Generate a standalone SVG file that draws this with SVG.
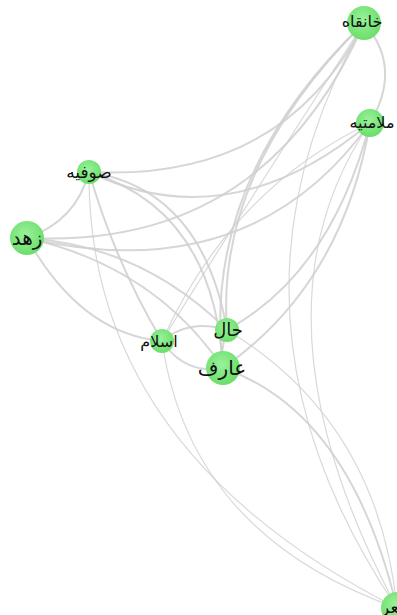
<svg xmlns="http://www.w3.org/2000/svg" width="397" height="615" viewBox="0 0 397 615">
<defs>
<radialGradient id="g" cx="45%" cy="40%" r="60%">
<stop offset="0" stop-color="#9af29a"/>
<stop offset="1" stop-color="#6ade6a"/>
</radialGradient>
<style>
.e{fill:none;stroke:#cfcfcf;stroke-width:2;stroke-opacity:0.85}
.t{stroke-width:1.2;stroke-opacity:0.8}
.n{fill:url(#g)}
text{font-family:"Liberation Sans","DejaVu Sans",sans-serif;fill:#111;text-anchor:middle}
</style>
</defs>
<rect width="397" height="615" fill="#fff"/>
<g id="edges">
<path class="e" d="M364,23 Q403,67 370,123"/>
<path class="e" d="M89,172 Q283,182 364,23"/>
<path class="e" d="M27,238 Q265,250 364,23"/>
<path class="e" d="M364,23 Q215,170 227,330"/>
<path class="e" d="M364,23 Q200,180 223,368"/>
<path class="e t" d="M364,23 Q230,230 162,341"/>
<path class="e t" d="M364,23 Q199,314 397,608"/>
<path class="e" d="M27,238 Q250,290 370,123"/>
<path class="e" d="M89,172 Q230,240 370,123"/>
<path class="e t" d="M370,123 Q230,190 162,341"/>
<path class="e" d="M370,123 Q331,273 227,330"/>
<path class="e" d="M370,123 Q343,284 223,368"/>
<path class="e t" d="M370,123 Q240,314 397,608"/>
<path class="e" d="M27,238 Q76,221 89,172"/>
<path class="e" d="M89,172 Q202,189 227,330"/>
<path class="e" d="M89,172 Q214,210 223,368"/>
<path class="e" d="M89,172 Q115,262 162,341"/>
<path class="e t" d="M89,172 Q87,450 397,608"/>
<path class="e" d="M27,238 Q143,246 227,330"/>
<path class="e" d="M27,238 Q155,267 223,368"/>
<path class="e" d="M27,238 Q81,334 162,341"/>
<path class="e" d="M162,341 Q190,318 227,330"/>
<path class="e" d="M162,341 Q185,375 223,368"/>
<path class="e t" d="M162,341 Q190,535 397,608"/>
<path class="e" d="M227,330 Q220,350 223,368"/>
<path class="e t" d="M227,330 Q378,421 397,608"/>
<path class="e" d="M223,368 Q350,412 397,608"/>
</g>
<g id="n-khanqah"><circle class="n" cx="364" cy="23" r="17"/><text x="362" y="27" font-size="16">خانقاه</text></g>
<g id="n-malamatiyeh"><circle class="n" cx="370" cy="123" r="14"/><text x="372" y="128" font-size="16">ملامتیه</text></g>
<g id="n-sufiyeh"><circle class="n" cx="89" cy="172" r="12"/><text x="89" y="178" font-size="17">صوفیه</text></g>
<g id="n-zohd"><circle class="n" cx="27" cy="238" r="17"/><text x="27" y="245" font-size="20">زهد</text></g>
<g id="n-eslam"><circle class="n" cx="162" cy="341" r="12"/><text x="159" y="347" font-size="16">اسلام</text></g>
<g id="n-hal"><circle class="n" cx="227" cy="330" r="12"/><text x="228" y="336" font-size="18">حال</text></g>
<g id="n-aref"><circle class="n" cx="223" cy="368" r="17"/><text x="222" y="375" font-size="20">عارف</text></g>
<g id="n-sher"><circle class="n" cx="397" cy="608" r="16"/><text x="397" y="613" font-size="17">شعر</text></g>
</svg>
